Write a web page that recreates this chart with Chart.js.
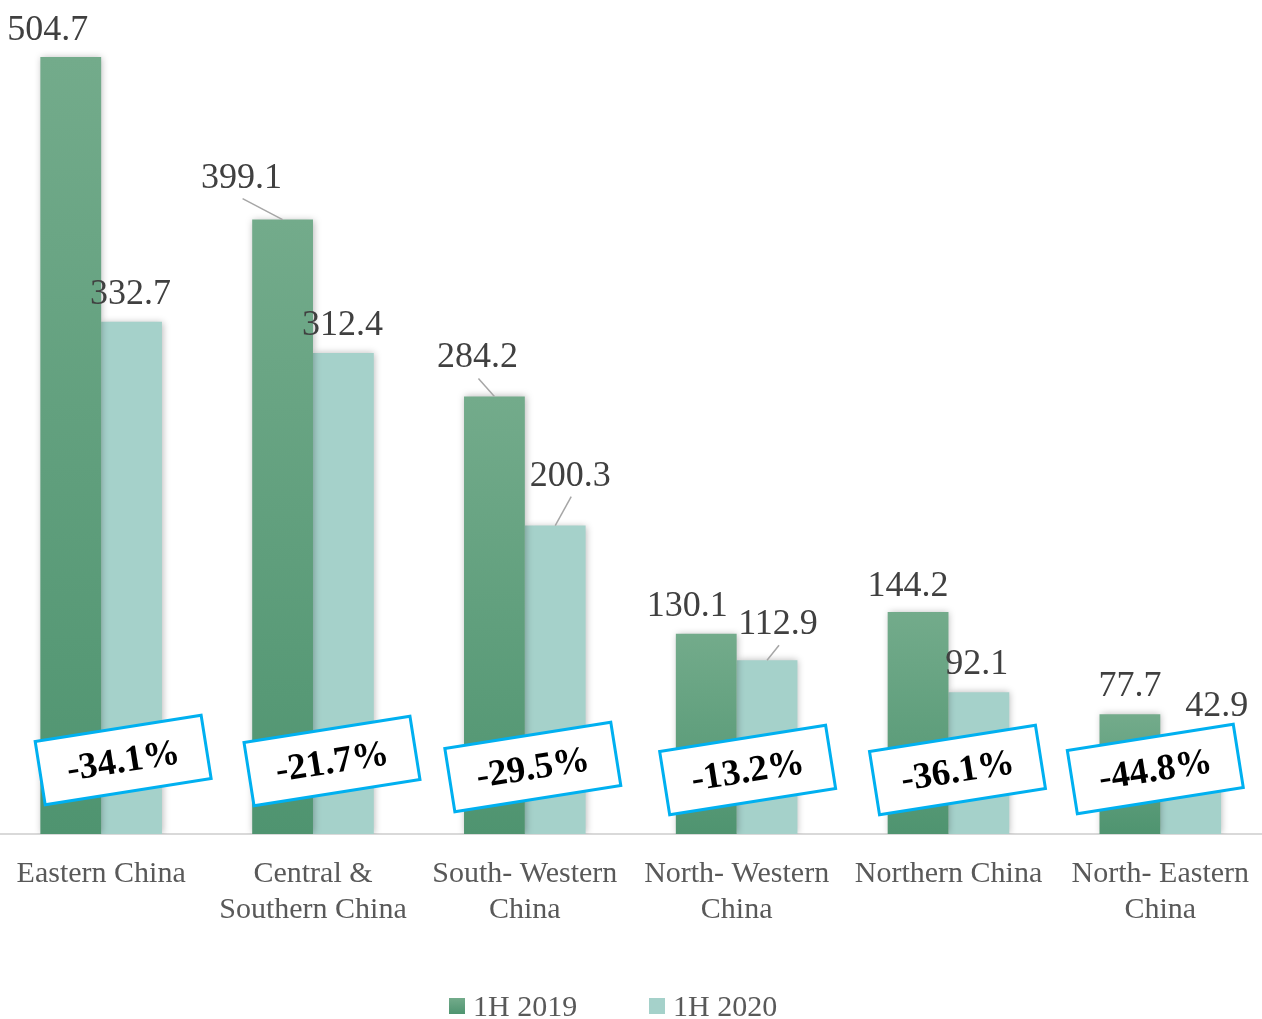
<!DOCTYPE html>
<html>
<head>
<meta charset="utf-8">
<script src="https://cdn.jsdelivr.net/npm/chart.js@4/dist/chart.umd.min.js"></script>
<style>
  html, body { margin: 0; padding: 0; background: #ffffff; overflow: hidden; width: 1262px; height: 1019px; }
  #wrap { position: absolute; left: -5px; top: 0; width: 1276px; height: 1019px; }
  canvas { display: block; }
</style>
</head>
<body>
<div id="wrap"><canvas id="c" width="1276" height="1019"></canvas></div>
<script>
// ---- data ----
const categories = [
  ["Eastern China"],
  ["Central &", "Southern China"],
  ["South- Western", "China"],
  ["North- Western", "China"],
  ["Northern China"],
  ["North- Eastern", "China"]
];
const seriesNames = ["1H 2019", "1H 2020"];
const values2019 = [504.7, 399.1, 284.2, 130.1, 144.2, 77.7];
const values2020 = [332.7, 312.4, 200.3, 112.9, 92.1, 42.9];
const changeLabels = ["-34.1%", "-21.7%", "-29.5%", "-13.2%", "-36.1%", "-44.8%"];

// ---- layout / style (not data) ----
const OFFSET = 5; // canvas shifted left by 5px
const labelNudge = [
  [[-23, -30], [-41, -45], [-17, -42], [-19, -31], [-10, -29], [0, -31]],
  [[-1, -31], [-1, -31], [15, -53], [11, -39], [-2, -31], [26, -65]]
];
const leaderLines = [
  [false, true, true, false, false, false],
  [false, false, true, true, false, false]
];
const calloutDx = [22, 19, 8, 11, 9, -5];
const calloutDy = [-74, -73, -67, -64, -64, -65];

const SERIF = "'Liberation Serif', 'Times New Roman', serif";
const GREEN_TOP = '#73ab8b', GREEN_BOT = '#4f9470', LIGHT = '#a5d1ca';

function greenGradient(ctx, top, bottom) {
  const g = ctx.createLinearGradient(0, top, 0, bottom);
  g.addColorStop(0, GREEN_TOP);
  g.addColorStop(1, GREEN_BOT);
  return g;
}

const shadowPlugin = {
  id: 'shadow',
  beforeDatasetsDraw(chart) {
    const c = chart.ctx;
    c.save();
    c.shadowColor = 'rgba(0,0,0,0.28)';
    c.shadowBlur = 7;
    c.shadowOffsetX = 1;
    c.shadowOffsetY = 0;
  },
  afterDatasetsDraw(chart) {
    chart.ctx.restore();
  }
};

const labelPlugin = {
  id: 'valueLabels',
  afterDatasetsDraw(chart) {
    const c = chart.ctx;
    c.save();
    c.font = '36px ' + SERIF;
    c.fillStyle = '#404040';
    c.textAlign = 'center';
    c.textBaseline = 'alphabetic';
    chart.data.datasets.forEach((ds, di) => {
      const meta = chart.getDatasetMeta(di);
      meta.data.forEach((bar, i) => {
        const [dx, dy] = labelNudge[di][i];
        const lx = bar.x + dx, ly = bar.y + dy;
        if (leaderLines[di][i]) {
          c.strokeStyle = '#a6a6a6';
          c.lineWidth = 1.5;
          c.beginPath();
          c.moveTo(lx + 1, ly + 24);
          c.lineTo(bar.x, bar.y);
          c.stroke();
        }
        c.fillText(ds.data[i].toFixed(1), lx, ly + 13);
      });
    });
    c.restore();
  }
};

const calloutPlugin = {
  id: 'callouts',
  afterDraw(chart) {
    const c = chart.ctx;
    const xs = chart.scales.x, ys = chart.scales.y;
    const base = ys.getPixelForValue(0);
    const w = 168, h = 64, ang = -9 * Math.PI / 180;
    changeLabels.forEach((txt, i) => {
      const cx = xs.getPixelForValue(i) + calloutDx[i];
      const cy = base + calloutDy[i];
      c.save();
      c.translate(cx, cy);
      c.rotate(ang);
      c.fillStyle = '#ffffff';
      c.fillRect(-w / 2, -h / 2, w, h);
      c.strokeStyle = '#00b0f0';
      c.lineWidth = 3;
      c.strokeRect(-w / 2, -h / 2, w, h);
      c.fillStyle = '#000000';
      c.font = 'bold 37px ' + SERIF;
      c.textAlign = 'center';
      c.textBaseline = 'alphabetic';
      c.fillText(txt, 0, 12);
      c.restore();
    });

    // legend
    const items = [
      { x: 449 + OFFSET, fill: greenGradient(c, 998, 1014) },
      { x: 649 + OFFSET, fill: LIGHT }
    ];
    c.save();
    c.font = '30px ' + SERIF;
    c.textBaseline = 'alphabetic';
    c.textAlign = 'left';
    items.forEach((it, k) => {
      c.fillStyle = it.fill;
      c.fillRect(it.x, 998, 16, 16);
      c.fillStyle = '#595959';
      c.fillText(chart.data.datasets[k].label, it.x + 24, 1016);
    });
    c.restore();
  }
};

new Chart(document.getElementById('c'), {
  type: 'bar',
  data: {
    labels: categories,
    datasets: [
      {
        label: seriesNames[0],
        data: values2019,
        backgroundColor: (ctx) => {
          const chart = ctx.chart;
          if (!chart.chartArea || ctx.raw === undefined) return GREEN_BOT;
          const y = chart.scales.y;
          return greenGradient(chart.ctx, y.getPixelForValue(ctx.raw), y.getPixelForValue(0));
        },
        borderWidth: 0
      },
      {
        label: seriesNames[1],
        data: values2020,
        backgroundColor: LIGHT,
        borderWidth: 0
      }
    ]
  },
  options: {
    responsive: false,
    animation: false,
    devicePixelRatio: 1,
    layout: { padding: 0 },
    datasets: { bar: { categoryPercentage: 0.574, barPercentage: 1.0 } },
    plugins: {
      legend: { display: false },
      tooltip: { enabled: false },
      title: { display: false }
    },
    scales: {
      x: {
        offset: true,
        grid: { display: false, drawTicks: false },
        border: { display: true, color: '#d9d9d9', width: 2 },
        ticks: {
          color: '#595959',
          font: { family: SERIF, size: 30 },
          padding: 22,
          maxRotation: 0,
          autoSkip: false
        },
        afterFit(scale) { scale.height = 185; }
      },
      y: {
        display: false,
        min: 0,
        max: 541.7
      }
    }
  },
  plugins: [shadowPlugin, labelPlugin, calloutPlugin]
});
</script>
</body>
</html>
